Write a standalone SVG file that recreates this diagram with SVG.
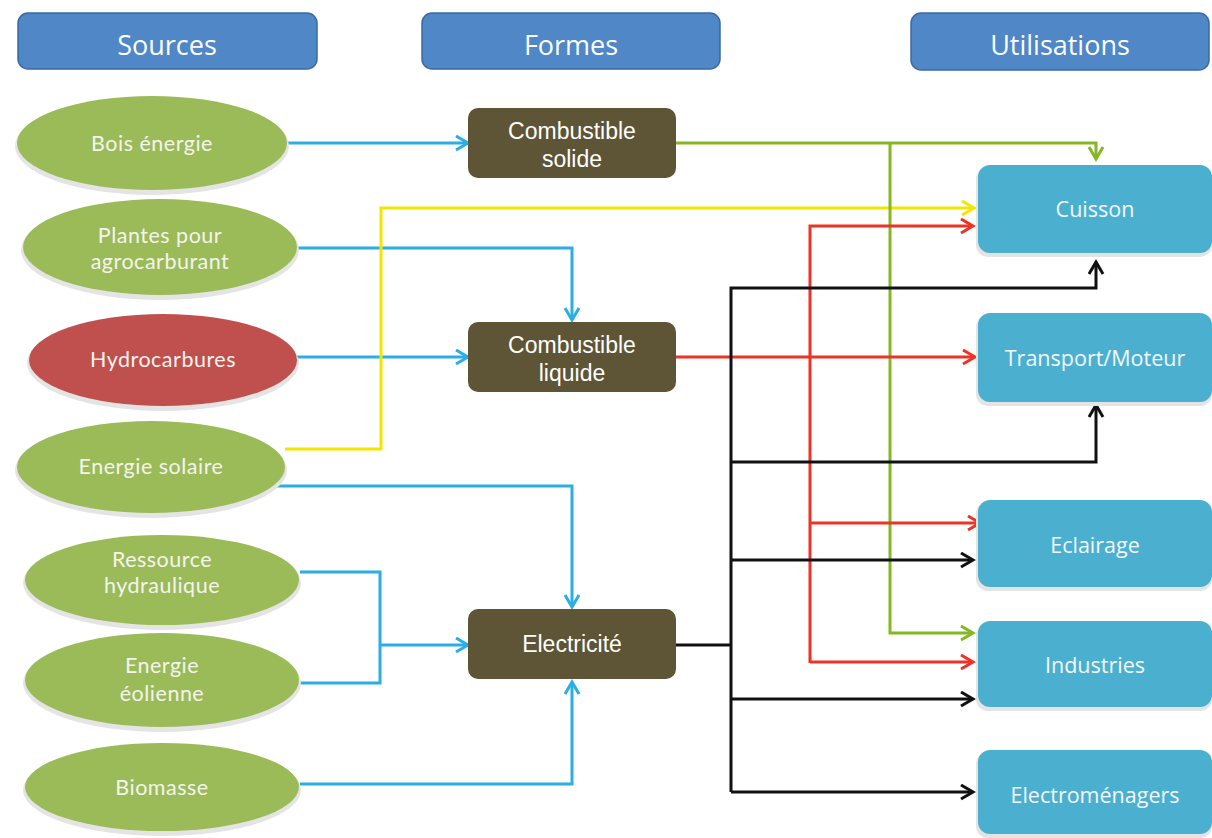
<svg xmlns="http://www.w3.org/2000/svg" width="1212" height="838" viewBox="0 0 1212 838">
<defs>
<style>
.hdr{fill:#4f87c7;stroke:#3b69a6;stroke-width:1.5}
.hdrt{font-family:"Open Sans",Lato,sans-serif;font-size:27px;fill:#ffffff;text-anchor:middle}
.ell{fill:#9bbb59}
.ellr{fill:#c0504d}
.shd{fill:#e4e4e4}
.et{font-family:Lato,"Open Sans",sans-serif;font-size:21.5px;letter-spacing:0.5px;fill:#f4f4ee;text-anchor:middle}
.frm{fill:#5d5535}
.ft{font-family:"Liberation Sans",Arial,sans-serif;font-size:23px;fill:#ffffff;text-anchor:middle}
.use{fill:#4bb0d0}
.ut{font-family:"Open Sans",Lato,sans-serif;font-size:21.5px;fill:#f4f8fa;text-anchor:middle}
.c{fill:none;stroke-width:3;stroke-linejoin:miter}
.b{stroke:#2aaee3}
.y{stroke:#f3e500}
.g{stroke:#85b723}
.r{stroke:#ec3326}
.k{stroke:#111111}
</style>
<marker id="ab" markerUnits="userSpaceOnUse" markerWidth="16" markerHeight="18" refX="13" refY="8" orient="auto"><path d="M1,1 L13,8 L1,15" fill="none" stroke="#2aaee3" stroke-width="3"/></marker>
<marker id="ay" markerUnits="userSpaceOnUse" markerWidth="16" markerHeight="18" refX="13" refY="8" orient="auto"><path d="M1,1 L13,8 L1,15" fill="none" stroke="#f3e500" stroke-width="3"/></marker>
<marker id="ag" markerUnits="userSpaceOnUse" markerWidth="16" markerHeight="18" refX="13" refY="8" orient="auto"><path d="M1,1 L13,8 L1,15" fill="none" stroke="#85b723" stroke-width="3"/></marker>
<marker id="ar" markerUnits="userSpaceOnUse" markerWidth="16" markerHeight="18" refX="13" refY="8" orient="auto"><path d="M1,1 L13,8 L1,15" fill="none" stroke="#ec3326" stroke-width="3"/></marker>
<marker id="ak" markerUnits="userSpaceOnUse" markerWidth="16" markerHeight="18" refX="13" refY="8" orient="auto"><path d="M1,1 L13,8 L1,15" fill="none" stroke="#111111" stroke-width="3"/></marker>
</defs>
<rect width="1212" height="838" fill="#ffffff"/>

<g id="hdr-sources"><rect class="hdr" x="18" y="13" width="299" height="56" rx="10"/><text class="hdrt" x="167" y="55">Sources</text></g>
<g id="hdr-formes"><rect class="hdr" x="422" y="13" width="298" height="56" rx="10"/><text class="hdrt" x="571" y="55">Formes</text></g>
<g id="hdr-utilisations"><rect class="hdr" x="911" y="13" width="298" height="57" rx="10"/><text class="hdrt" x="1060" y="55">Utilisations</text></g>

<g id="connectors">
<path class="c b" d="M285,143 H468" marker-end="url(#ab)"/>
<path class="c b" d="M297,248 H572 V320" marker-end="url(#ab)"/>
<path class="c b" d="M297,357 H468" marker-end="url(#ab)"/>
<path class="c b" d="M275,486 H572 V607" marker-end="url(#ab)"/>
<path class="c b" d="M300,572 H380 V683 H300"/>
<path class="c b" d="M380,645 H468" marker-end="url(#ab)"/>
<path class="c b" d="M300,784 H572 V682" marker-end="url(#ab)"/>
<path class="c y" d="M285,449 H381 V208 H974" marker-end="url(#ay)"/>
<path class="c g" d="M676,143 H1096 V159" marker-end="url(#ag)"/>
<path class="c g" d="M890,143 V633 H973" marker-end="url(#ag)"/>
<path class="c r" d="M676,357 H975" marker-end="url(#ar)"/>
<path class="c r" d="M810,663 V226 H973" marker-end="url(#ar)"/>
<path class="c r" d="M810,523 H980" marker-end="url(#ar)"/>
<path class="c r" d="M810,662 H973" marker-end="url(#ar)"/>
<path class="c k" d="M676,645 H731"/>
<path class="c k" d="M731,792 V288 H1096 V262" marker-end="url(#ak)"/>
<path class="c k" d="M731,462 H1096 V405" marker-end="url(#ak)"/>
<path class="c k" d="M731,560 H973" marker-end="url(#ak)"/>
<path class="c k" d="M731,699 H973" marker-end="url(#ak)"/>
<path class="c k" d="M731,792 H973" marker-end="url(#ak)"/>
</g>

<g id="src-bois"><ellipse class="shd" cx="152" cy="146" rx="137" ry="49"/><ellipse class="ell" cx="152" cy="143" rx="135" ry="47"/><text class="et" x="152" y="151">Bois énergie</text></g>
<g id="src-plantes"><ellipse class="shd" cx="160" cy="250" rx="139" ry="50"/><ellipse class="ell" cx="160" cy="247" rx="137" ry="48"/><text class="et" x="160" y="243">Plantes pour</text><text class="et" x="160" y="269">agrocarburant</text></g>
<g id="src-hydrocarbures"><ellipse class="shd" cx="163" cy="363" rx="136" ry="48"/><ellipse class="ellr" cx="163" cy="360" rx="134" ry="46"/><text class="et" x="163" y="367">Hydrocarbures</text></g>
<g id="src-solaire"><ellipse class="shd" cx="151" cy="470" rx="136" ry="48"/><ellipse class="ell" cx="151" cy="467" rx="134" ry="46"/><text class="et" x="151" y="474">Energie solaire</text></g>
<g id="src-hydraulique"><ellipse class="shd" cx="162" cy="583" rx="139" ry="47"/><ellipse class="ell" cx="162" cy="580" rx="137" ry="45"/><text class="et" x="162" y="567">Ressource</text><text class="et" x="162" y="593">hydraulique</text></g>
<g id="src-eolienne"><ellipse class="shd" cx="162" cy="683" rx="139" ry="49"/><ellipse class="ell" cx="162" cy="680" rx="137" ry="47"/><text class="et" x="162" y="673">Energie</text><text class="et" x="162" y="701">éolienne</text></g>
<g id="src-biomasse"><ellipse class="shd" cx="162" cy="790" rx="139" ry="46"/><ellipse class="ell" cx="162" cy="787" rx="137" ry="44"/><text class="et" x="162" y="795">Biomasse</text></g>

<g id="form-solide"><rect class="frm" x="468" y="108" width="208" height="70" rx="10"/><text class="ft" x="572" y="139">Combustible</text><text class="ft" x="572" y="167">solide</text></g>
<g id="form-liquide"><rect class="frm" x="468" y="322" width="208" height="70" rx="10"/><text class="ft" x="572" y="353">Combustible</text><text class="ft" x="572" y="381">liquide</text></g>
<g id="form-electricite"><rect class="frm" x="468" y="609" width="208" height="70" rx="10"/><text class="ft" x="572" y="652">Electricité</text></g>

<g id="use-cuisson"><rect class="shd" x="976" y="167" width="236" height="90" rx="12"/><rect class="use" x="978" y="165" width="234" height="88" rx="12"/><text class="ut" x="1095" y="217">Cuisson</text></g>
<g id="use-transport"><rect class="shd" x="976" y="315" width="236" height="91" rx="12"/><rect class="use" x="978" y="313" width="234" height="89" rx="12"/><text class="ut" x="1095" y="366">Transport/Moteur</text></g>
<g id="use-eclairage"><rect class="shd" x="976" y="502" width="236" height="89" rx="12"/><rect class="use" x="978" y="500" width="234" height="87" rx="12"/><text class="ut" x="1095" y="553">Eclairage</text></g>
<g id="use-industries"><rect class="shd" x="976" y="623" width="236" height="88" rx="12"/><rect class="use" x="978" y="621" width="234" height="86" rx="12"/><text class="ut" x="1095" y="673">Industries</text></g>
<g id="use-electromenagers"><rect class="shd" x="976" y="752" width="236" height="86" rx="12"/><rect class="use" x="978" y="750" width="234" height="84" rx="12"/><text class="ut" x="1095" y="803">Electroménagers</text></g>
</svg>
